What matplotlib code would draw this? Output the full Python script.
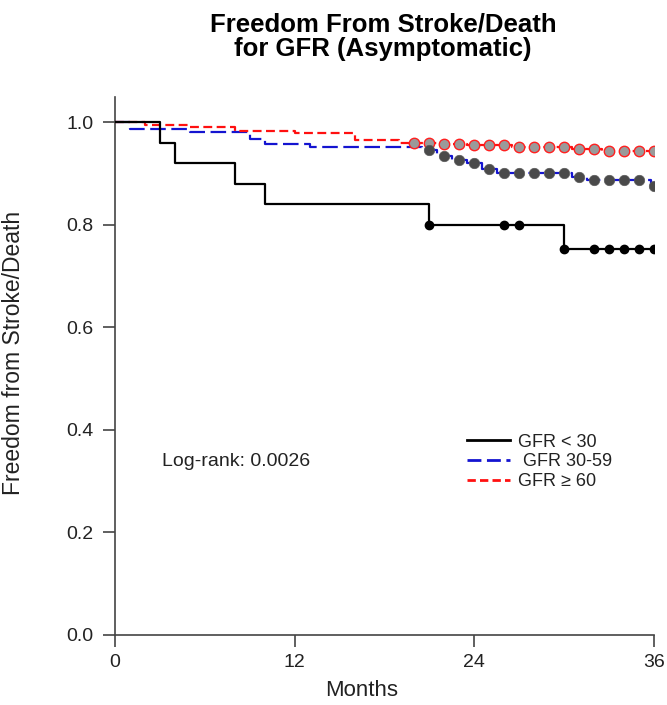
import numpy as np
import matplotlib.pyplot as plt

plt.rcParams['font.family'] = ['Liberation Sans', 'DejaVu Sans']

# --- Kaplan-Meier step data (months, survival) ---
# GFR < 30
t_lt30 = [0, 3, 4, 8, 10, 21, 30, 36]
s_lt30 = [1.0, 0.96, 0.92, 0.88, 0.84, 0.80, 0.753, 0.753]
cens_lt30 = [21, 26, 27, 30, 32, 33, 34, 35, 36]

# GFR 30-59
t_3059 = [0, 1, 5, 9, 10, 13, 20.5, 21.5, 22.5, 23.5, 24.5, 25.5, 30.5, 31.5, 35.8, 36]
s_3059 = [1.0, 0.986, 0.98, 0.968, 0.958, 0.952, 0.945, 0.934, 0.927, 0.921,
          0.908, 0.901, 0.894, 0.887, 0.875, 0.875]
cens_3059 = list(range(21, 37))

# GFR >= 60
t_ge60 = [0, 2, 5, 8, 12, 16, 19, 21.5, 23.5, 26.5, 30.5, 32.5, 36]
s_ge60 = [1.0, 0.994, 0.99, 0.982, 0.978, 0.965, 0.96, 0.957, 0.955, 0.952,
          0.948, 0.944, 0.944]
cens_ge60 = list(range(20, 37))

labels = ['GFR < 30', ' GFR 30-59', 'GFR \u2265 60']
yticks = [0.0, 0.2, 0.4, 0.6, 0.8, 1.0]
xticks = [0, 12, 24, 36]


def surv_at(t, s, x):
    # value of the step function at censor time x
    idx = np.searchsorted(t, x, side='right') - 1
    return np.asarray(s)[idx]


fig = plt.figure(figsize=(6.67, 7.05), dpi=100)
ax = fig.add_axes([0.1724, 0.0993, 0.808, 0.7631])

# --- curves ---
ax.step(t_ge60, s_ge60, where='post', color='#ff1010', lw=1.6,
        dashes=(4, 2), zorder=3)
ax.step(t_3059, s_3059, where='post', color='#1414d0', lw=1.6,
        dashes=(7, 2.5), zorder=2)
ax.step(t_lt30, s_lt30, where='post', color='black', lw=1.6, zorder=4)

# --- censor marks ---
ax.plot(cens_ge60, surv_at(t_ge60, s_ge60, cens_ge60), 'o', ms=7.5,
        mfc='#9a9a9a', mec='#ff2020', mew=1.0, zorder=5)
ax.plot(cens_3059, surv_at(t_3059, s_3059, cens_3059), 'o', ms=7.5,
        mfc='#4a4a4a', mec='#5a5a5a', mew=0.5, zorder=5)
ax.plot(cens_lt30, surv_at(t_lt30, s_lt30, cens_lt30), 'o', ms=6,
        color='black', zorder=6)

# --- axes styling ---
ax.set_xlim(0, 36)
ax.set_ylim(0, 1.049)
ax.set_xticks(xticks)
ax.set_yticks(yticks)
ax.set_yticklabels([f'{v:.1f}' for v in yticks])
for side in ['top', 'right']:
    ax.spines[side].set_visible(False)
for side in ['left', 'bottom']:
    ax.spines[side].set_color('#444444')
    ax.spines[side].set_linewidth(1.2)
ax.tick_params(direction='out', length=8.5, width=1.2, color='#444444',
               labelsize=14, labelcolor='#222222')
ax.tick_params(axis='y', pad=7)
ax.tick_params(axis='x', pad=5)

ax.set_xlabel('Months', fontsize=16, color='#222222')
ax.xaxis.set_label_coords(0.458, -0.083)
ax.set_ylabel('Freedom from Stroke/Death', fontsize=16.5, color='#222222')
ax.yaxis.set_label_coords(-0.167, 0.524)

fig.text(0.574, 0.948, 'Freedom From Stroke/Death\nfor GFR (Asymptomatic)',
         ha='center', va='center', fontsize=18.5, fontweight='bold',
         linespacing=1.0)

ax.text(0.0872, 0.3216, 'Log-rank: 0.0026', transform=ax.transAxes,
        fontsize=14, color='#222222', va='center')

h_lt, = ax.plot([], [], color='black', lw=2)
h_mid, = ax.plot([], [], color='#1414d0', lw=2, dashes=(5, 2))
h_ge, = ax.plot([], [], color='#ff1010', lw=2, dashes=(3, 1.5))
ax.legend([h_lt, h_mid, h_ge], labels, loc='center left',
          bbox_to_anchor=(0.653, 0.3216), frameon=False, fontsize=13,
          handlelength=2.4, handletextpad=0.45, labelspacing=0.15,
          borderpad=0, borderaxespad=0, labelcolor='#222222')

fig.savefig('out.png', dpi=100, facecolor='white')
